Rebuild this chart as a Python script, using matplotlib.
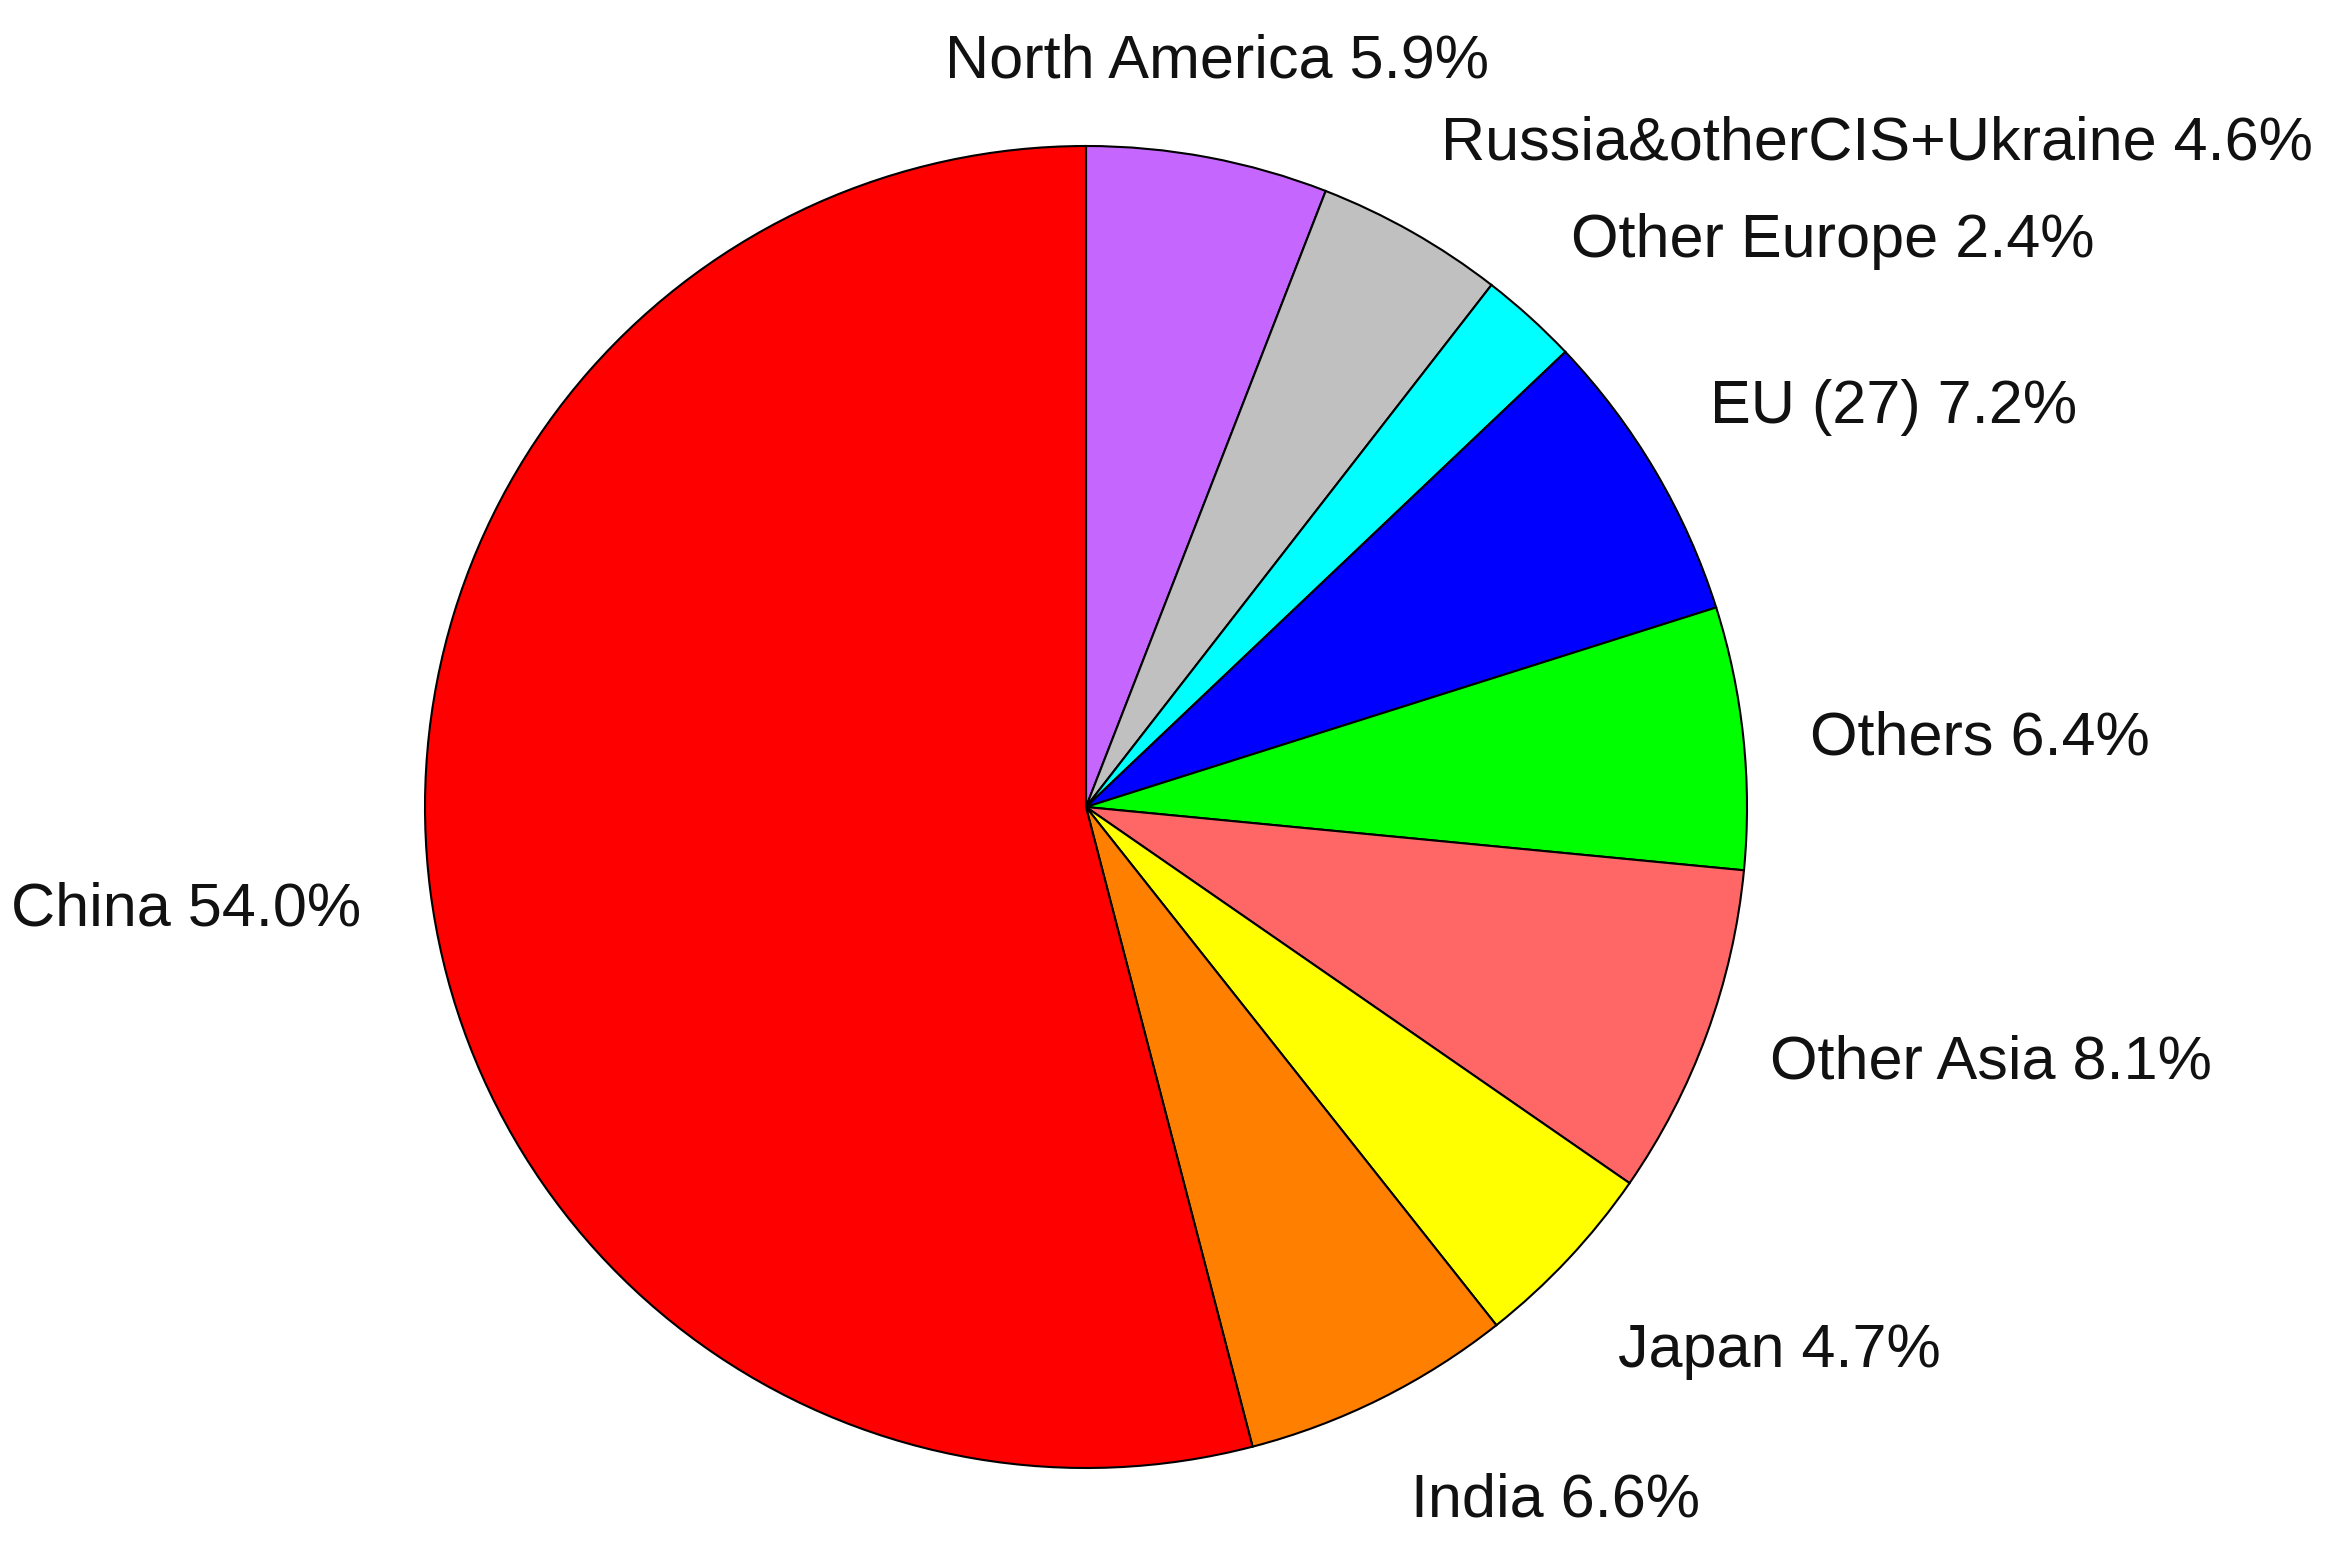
import matplotlib
matplotlib.use("Agg")
import matplotlib.pyplot as plt

regions = ["North America", "Russia&otherCIS+Ukraine", "Other Europe", "EU (27)",
           "Others", "Other Asia", "Japan", "India", "China"]
shares = [5.9, 4.6, 2.4, 7.2, 6.4, 8.1, 4.7, 6.6, 54.0]
colors = ["#C566FF", "#C0C0C0", "#00FFFF", "#0000FF", "#00FF00",
          "#FF6666", "#FFFF00", "#FF8000", "#FF0000"]

# label anchor points (pie radius = 1) and alignment
label_pos = [(0.198, 1.103), (0.537, 0.979), (0.734, 0.832), (0.944, 0.581),
             (1.095, 0.080), (1.035, -0.410), (0.805, -0.847), (0.492, -1.073),
             (-1.097, -0.180)]
label_ha = ["center", "left", "left", "left", "left", "left", "left", "left", "right"]

plt.rcParams['font.family'] = ['Liberation Sans', 'DejaVu Sans']

fig = plt.figure(figsize=(23.42, 15.5), dpi=100)
ax = fig.add_axes([0, 0, 1, 1])

labels = ["%s %.1f%%" % (r, s) for r, s in zip(regions, shares)]
wedges, texts = ax.pie(shares, labels=labels, colors=colors, startangle=90,
                       counterclock=False, radius=1,
                       wedgeprops={"edgecolor": "black", "linewidth": 1.5},
                       textprops={"fontsize": 44, "color": "#111111"})

for t, p, ha in zip(texts, label_pos, label_ha):
    t.set_position(p)
    t.set_ha(ha)
    t.set_va("baseline")

cx, cy, R = 1086, 807, 661
ax.set_xlim(-cx / R, (2342 - cx) / R)
ax.set_ylim((cy - 1550) / R, cy / R)
ax.set_aspect("auto")
ax.axis("off")

fig.savefig("out.png", dpi=100, facecolor="white")
